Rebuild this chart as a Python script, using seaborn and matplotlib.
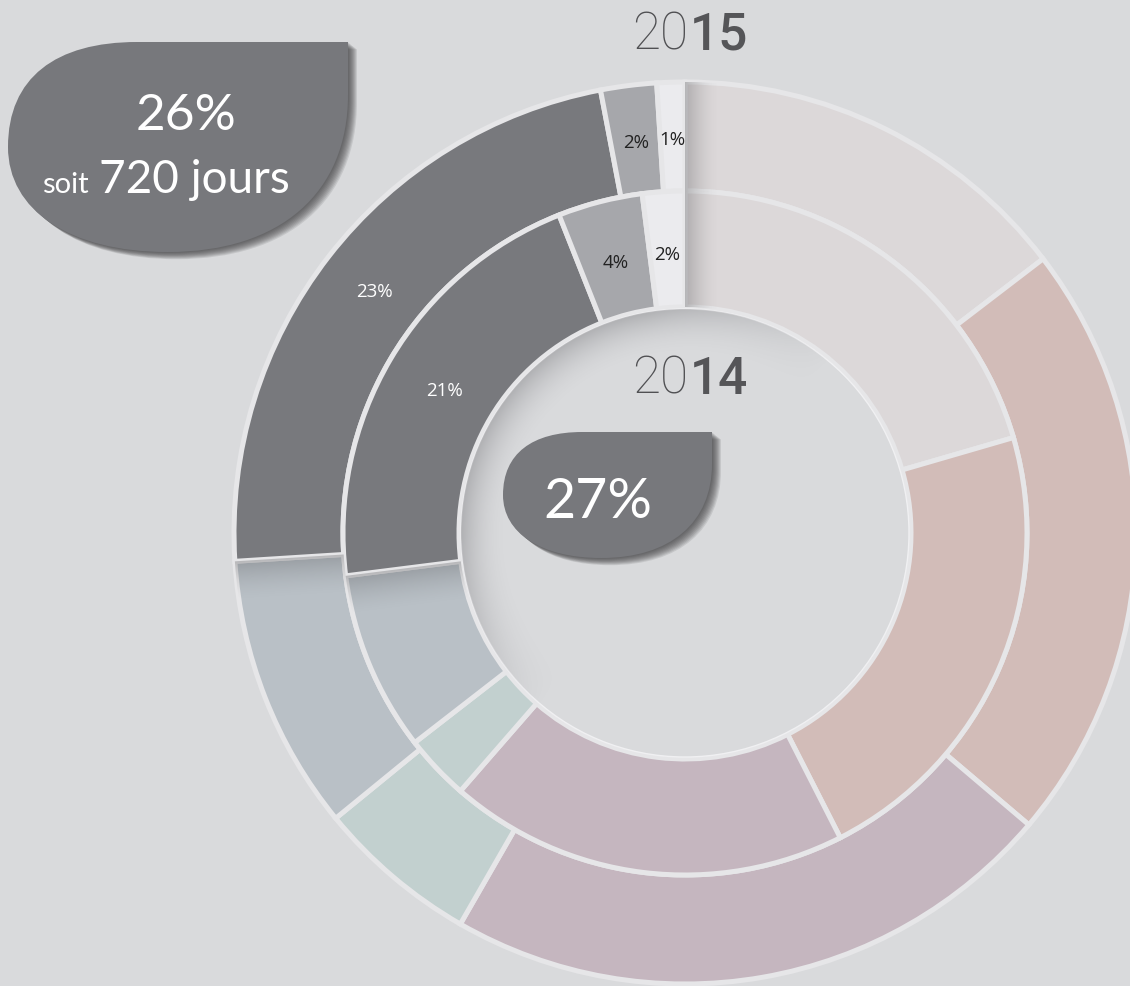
import numpy as np
import matplotlib
matplotlib.use("Agg")
import matplotlib.pyplot as plt
from matplotlib.path import Path
from matplotlib.patches import PathPatch, Circle
from matplotlib.colors import to_rgb
import seaborn as sns

# ---- data -------------------------------------------------------------
segments = ["s1", "s2", "s3", "s4", "s5", "s6", "s7", "s8"]
values_2015 = [14.6, 21.6, 22.1, 5.8, 9.9, 23, 2, 1]
values_2014 = [20.5, 22.0, 18.9, 3.1, 8.5, 21, 4, 2]
labels_2015 = ["", "", "", "", "", "23%", "2%", "1%"]
labels_2014 = ["", "", "", "", "", "21%", "4%", "2%"]
year_outer = ("20", "15")
year_inner = ("20", "14")
callout_2015 = ("26%", "soit", "720 jours")
callout_2014 = "27%"

# ---- style ------------------------------------------------------------
BG = "#d9dadc"
EDGE = "#e6e6e8"
palette = ["#dcd8d9", "#d2bcb8", "#c5b6bf", "#c2d0cf",
           "#b9c0c6", "#78797d", "#a6a7ab", "#ebebee"]
label_colors = ["#222222"] * 5 + ["white", "#222222", "#222222"]

sns.set_theme(style="white", rc={"figure.facecolor": BG, "axes.facecolor": BG})
plt.rcParams["font.family"] = ["Lato", "DejaVu Sans"]

W, H = 1130, 986
fig = plt.figure(figsize=(W / 100, H / 100), dpi=100)
ax = fig.add_axes([0, 0, 1, 1])


def Y(y):
    return H - y


CX, CY = 685, Y(533)
R_OUT, R_MID, R_IN = 451, 342, 226

wedges_out, _ = ax.pie(values_2015, colors=palette, radius=R_OUT, center=(CX, CY),
                       startangle=90, counterclock=False, frame=True,
                       wedgeprops=dict(width=R_OUT - R_MID, edgecolor=EDGE, linewidth=3.6))
wedges_in, _ = ax.pie(values_2014, colors=palette, radius=R_MID, center=(CX, CY),
                      startangle=90, counterclock=False, frame=True,
                      wedgeprops=dict(width=R_MID - R_IN, edgecolor=EDGE, linewidth=3.6))

# inner disc
disc = Circle((CX, CY), R_IN - 2, facecolor=BG, edgecolor="#f0f0f2", lw=1.0, zorder=3)
ax.add_patch(disc)

# ---- soft shading -----------------------------------------------------
gx = np.arange(CX - R_OUT, CX + R_OUT + 1)
gy = np.arange(CY - R_OUT, CY + R_OUT + 1)
XX, YY = np.meshgrid(gx, gy)
DX, DY = XX - CX, YY - CY
DIST = np.hypot(DX, DY)
PHI = np.degrees(np.arctan2(DY, DX))
EXTENT = [gx[0], gx[-1], gy[0], gy[-1]]


def shade(alpha, clip, color="#4d4d50", z=2):
    img = np.zeros(alpha.shape + (4,))
    img[..., :3] = to_rgb(color)
    img[..., 3] = np.clip(alpha, 0, 1)
    im = ax.imshow(img, extent=EXTENT, origin="lower", zorder=z,
                   interpolation="bilinear")
    im.set_clip_path(clip)


def edge_shadow(wedge, edge_theta, reach, strength):
    delta = np.abs(((PHI - edge_theta + 180) % 360) - 180)
    s = np.radians(delta) * DIST
    shade(strength * np.clip(1 - s / reach, 0, 1) ** 1.6, wedge)


# shadows cast by the grey stack onto its neighbours
for ws in (wedges_out, wedges_in):
    edge_shadow(ws[0], ws[0].theta2, 34, 0.32)
    edge_shadow(ws[4], ws[4].theta1, 40, 0.30)

# inner shadow along the upper-left rim of the centre disc
rim = np.clip((DIST - (R_IN - 48)) / 48, 0, 1) ** 2
side = np.clip(np.cos(np.radians(PHI - 140)) * 1.3, 0, 1)
shade(0.42 * rim * side, disc, color="#6f6f73", z=3.5)


def put_labels(wedges, labels, radius):
    for w, lab, col in zip(wedges, labels, label_colors):
        if not lab:
            continue
        t = np.deg2rad((w.theta1 + w.theta2) / 2)
        ax.text(CX + radius * np.cos(t), CY + radius * np.sin(t), lab,
                ha="center", va="center", fontsize=13.5, color=col,
                family=["Open Sans", "DejaVu Sans"], zorder=5)


put_labels(wedges_out, labels_2015, 393)
put_labels(wedges_in, labels_2014, 279)


# ---- drop-shaped callouts ---------------------------------------------
def drop_path(x0, y0, x1, y1):
    w, h = x1 - x0, y1 - y0
    pts = [(1, 0), (1, 0.25),
           (1, 0.72), (0.8, 1), (0.47, 1),
           (0.18, 1), (0, 0.8), (0, 0.5),
           (0, 0.17), (0.14, 0), (0.38, 0),
           (1, 0)]
    codes = [Path.MOVETO, Path.LINETO,
             Path.CURVE4, Path.CURVE4, Path.CURVE4,
             Path.CURVE4, Path.CURVE4, Path.CURVE4,
             Path.CURVE4, Path.CURVE4, Path.CURVE4,
             Path.CLOSEPOLY]
    verts = [(x0 + u * w, Y(y0 + v * h)) for u, v in pts]
    return Path(verts, codes)


def drop(x0, y0, x1, y1):
    for k in range(9, 0, -1):
        sh = drop_path(x0 + k * 1.0, y0 + k * 0.8, x1 + k * 1.0, y1 + k * 0.8)
        ax.add_patch(PathPatch(sh, facecolor="#38383a", edgecolor="none",
                               alpha=0.12, zorder=6))
    ax.add_patch(PathPatch(drop_path(x0, y0, x1, y1), facecolor="#77787c",
                           edgecolor="none", zorder=7))


drop(8, 42, 348, 252)
drop(503, 432, 712, 558)

txt = dict(color="white", zorder=8)
ax.text(186, Y(116), callout_2015[0], ha="center", va="center", fontsize=37, **txt)
ax.text(89, Y(193), callout_2015[1], ha="right", va="baseline", fontsize=21, **txt)
ax.text(99, Y(193), callout_2015[2], ha="left", va="baseline", fontsize=33, **txt)
ax.text(598, Y(502), callout_2014, ha="center", va="center", fontsize=40, **txt)

# ---- year titles ------------------------------------------------------
for (a, b), yc in ((year_outer, 36), (year_inner, 380)):
    ax.text(688, Y(yc), a, ha="right", va="center", fontsize=37,
            family=["Roboto", "DejaVu Sans"], weight="light",
            color="#505053", zorder=8)
    ax.text(690, Y(yc), b, ha="left", va="center", fontsize=37,
            family=["Roboto", "DejaVu Sans"], weight="medium",
            color="#555558", zorder=8)

ax.set_xlim(0, W)
ax.set_ylim(0, H)
ax.set_aspect("equal")
ax.set_axis_off()
fig.savefig("out.png", dpi=100, facecolor=BG)
